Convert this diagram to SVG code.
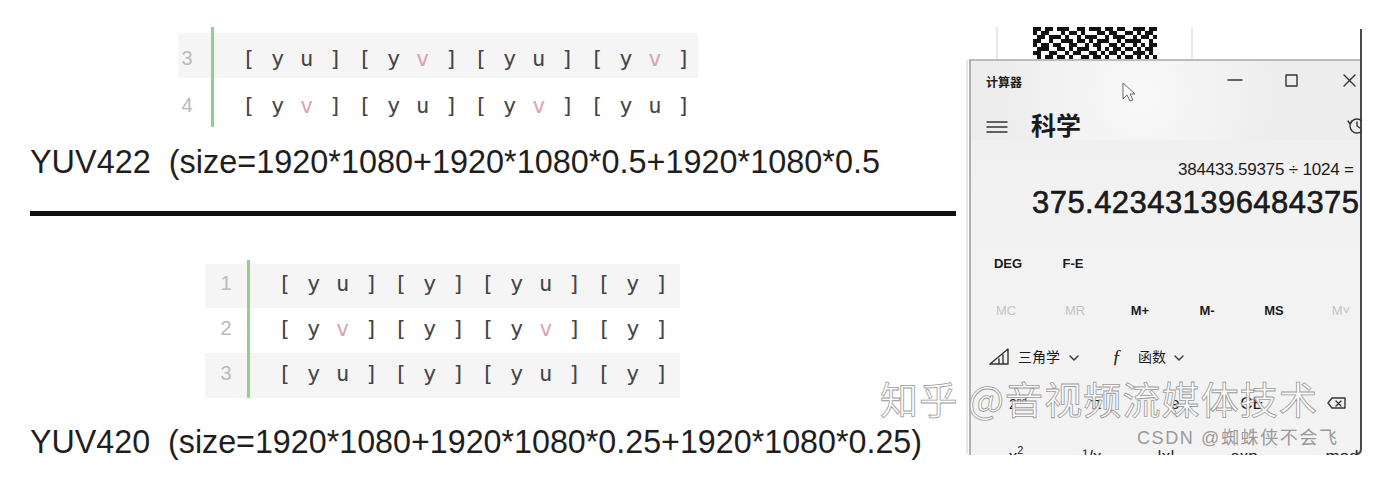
<svg xmlns="http://www.w3.org/2000/svg" width="1392" height="482" viewBox="0 0 1392 482">
<defs>
<style>
.code{font-family:"DejaVu Sans Mono","Liberation Mono",monospace;font-size:22px;fill:#454545;letter-spacing:1.26px}
.v{fill:#d9a3b3}
.ln{font-family:"Liberation Sans",Arial,sans-serif;font-size:20px;fill:#bababa;text-anchor:middle}
.band{fill:#f5f5f5}
.bar{fill:#8fcf8f}
.formula{font-family:"Liberation Sans",Arial,sans-serif;font-size:34px;fill:#1e1e1e}
.cal{font-family:"Liberation Sans","Noto Sans CJK SC",sans-serif;fill:#1b1b1b}
.btn{font-size:13px;font-weight:bold;text-anchor:middle}
.dim{fill:#c4c4c4;font-weight:normal}
.fn{font-size:17px;text-anchor:middle;fill:#222}
.icon{fill:none;stroke:#333;stroke-width:1.4;stroke-linecap:round;stroke-linejoin:round}
.wm{font-family:"Noto Sans CJK SC","Liberation Sans",sans-serif;fill:#ffffff;fill-opacity:0.9;stroke:#9a9a9a;stroke-width:0.8}
</style>
<clipPath id="calClip"><path d="M969 60H1362V449Q1362 455 1356 455H969Z"/></clipPath>
<radialGradient id="glow" cx="1140" cy="95" r="140" gradientUnits="userSpaceOnUse">
<stop offset="0" stop-color="#f9f9f9"/><stop offset="1" stop-color="#ededed"/>
</radialGradient>
<linearGradient id="body" x1="0" y1="60" x2="0" y2="455" gradientUnits="userSpaceOnUse">
<stop offset="0" stop-color="#ececec"/><stop offset="0.35" stop-color="#f2f2f2"/><stop offset="1" stop-color="#f3f3f3"/>
</linearGradient>
</defs>
<rect width="1392" height="482" fill="#ffffff"/>

<g id="yuv422-code">
<rect class="band" x="178" y="33" width="520" height="45"/>
<rect class="bar" x="211" y="27" width="3" height="100"/>
<text class="ln" x="187" y="65">3</text>
<text class="ln" x="187" y="112">4</text>
<text class="code" x="242" y="66">[ y u ] [ y <tspan class="v">v</tspan> ] [ y u ] [ y <tspan class="v">v</tspan> ]</text>
<text class="code" x="242" y="113">[ y <tspan class="v">v</tspan> ] [ y u ] [ y <tspan class="v">v</tspan> ] [ y u ]</text>
</g>

<g id="yuv422-formula">
<text class="formula" x="30" y="173" textLength="850" lengthAdjust="spacingAndGlyphs">YUV422&#160; (size=1920*1080+1920*1080*0.5+1920*1080*0.5</text>
</g>

<g id="divider">
<rect x="30" y="211" width="926" height="5" fill="#111111"/>
</g>

<g id="yuv420-code">
<rect class="band" x="205" y="264" width="475" height="44"/>
<rect class="band" x="205" y="353" width="475" height="45"/>
<rect class="bar" x="247" y="260" width="3" height="138"/>
<text class="ln" x="226" y="290">1</text>
<text class="ln" x="226" y="335">2</text>
<text class="ln" x="226" y="380">3</text>
<text class="code" x="278" y="291">[ y u ] [ y ] [ y u ] [ y ]</text>
<text class="code" x="278" y="336">[ y <tspan class="v">v</tspan> ] [ y ] [ y <tspan class="v">v</tspan> ] [ y ]</text>
<text class="code" x="278" y="381">[ y u ] [ y ] [ y u ] [ y ]</text>
</g>

<g id="yuv420-formula">
<text class="formula" x="30" y="453" textLength="892" lengthAdjust="spacingAndGlyphs">YUV420&#160; (size=1920*1080+1920*1080*0.25+1920*1080*0.25)</text>
</g>

<g id="background-window">
<line x1="997" y1="27" x2="997" y2="60" stroke="#e2e2e2" stroke-width="1.5"/>
<line x1="1192" y1="27" x2="1192" y2="60" stroke="#e2e2e2" stroke-width="1.5"/>
<path fill="#111111" d="M1033 27h8v4h-8zM1045 27h8v4h-8zM1057 27h12v4h-12zM1077 27h8v4h-8zM1089 27h12v4h-12zM1105 27h8v4h-8zM1117 27h8v4h-8zM1133 27h12v4h-12zM1149 27h8v4h-8z
M1033 31h4v4h-4zM1041 31h8v4h-8zM1061 31h4v4h-4zM1069 31h8v4h-8zM1081 31h4v4h-4zM1097 31h8v4h-8zM1109 31h8v4h-8zM1125 31h8v4h-8zM1137 31h4v4h-4zM1145 31h8v4h-8z
M1037 35h8v4h-8zM1049 35h12v4h-12zM1065 35h4v4h-4zM1077 35h4v4h-4zM1085 35h12v4h-12zM1105 35h4v4h-4zM1113 35h12v4h-12zM1133 35h4v4h-4zM1141 35h8v4h-8zM1153 35h4v4h-4z
M1033 39h8v4h-8zM1049 39h4v4h-4zM1061 39h12v4h-12zM1077 39h8v4h-8zM1089 39h4v4h-4zM1097 39h12v4h-12zM1117 39h4v4h-4zM1125 39h16v4h-16zM1149 39h4v4h-4z
M1033 43h4v4h-4zM1041 43h8v4h-8zM1053 43h8v4h-8zM1069 43h8v4h-8zM1085 43h4v4h-4zM1093 43h8v4h-8zM1109 43h8v4h-8zM1121 43h4v4h-4zM1133 43h4v4h-4zM1141 43h4v4h-4zM1149 43h8v4h-8z
M1037 47h12v4h-12zM1057 47h8v4h-8zM1069 47h4v4h-4zM1077 47h12v4h-12zM1097 47h4v4h-4zM1105 47h4v4h-4zM1113 47h8v4h-8zM1125 47h8v4h-8zM1137 47h4v4h-4zM1145 47h8v4h-8z
M1033 51h8v4h-8zM1049 51h8v4h-8zM1065 51h4v4h-4zM1073 51h8v4h-8zM1089 51h8v4h-8zM1101 51h4v4h-4zM1109 51h8v4h-8zM1121 51h4v4h-4zM1133 51h12v4h-12zM1149 51h4v4h-4z
M1037 55h4v4h-4zM1045 55h8v4h-8zM1057 55h8v4h-8zM1069 55h4v4h-4zM1081 55h8v4h-8zM1093 55h8v4h-8zM1105 55h4v4h-4zM1117 55h4v4h-4zM1125 55h8v4h-8zM1137 55h4v4h-4zM1145 55h4v4h-4zM1153 55h4v4h-4z"/>
<line x1="967" y1="60" x2="967" y2="454" stroke="#d0d0d0" stroke-width="1"/>
</g>

<g id="calculator">
<path d="M969 60H1362V449Q1362 455 1356 455H969Z" fill="url(#body)"/>
<rect x="969" y="60" width="393" height="80" fill="url(#glow)" clip-path="url(#calClip)"/>
<line x1="969" y1="60" x2="1362" y2="60" stroke="#a8a8a8" stroke-width="1.5"/>
<line x1="970" y1="60" x2="970" y2="455" stroke="#9a9a9a" stroke-width="1.5"/>
<path d="M1361 29V449Q1361 454 1356 454" fill="none" stroke="#4a4a4a" stroke-width="2"/>
<g clip-path="url(#calClip)">
<text class="cal" x="986" y="87" font-size="12" font-weight="bold" fill="#333">计算器</text>
<path d="M1123 83V99L1127 95L1130 101L1133 100L1130 94L1135 94Z" fill="#ffffff" stroke="#666" stroke-width="1"/>
<line class="icon" x1="1228" y1="80" x2="1242" y2="80" stroke-width="1.2"/>
<rect class="icon" x="1286" y="75" width="11" height="11" stroke-width="1.2"/>
<path class="icon" d="M1344 75L1355 86M1355 75L1344 86" stroke-width="1.2"/>
<path class="icon" d="M987 122H1007M987 127H1007M987 132H1007" stroke-width="1.6"/>
<text class="cal" x="1031" y="135" font-size="25" font-weight="bold" fill="#111">科学</text>
<circle class="icon" cx="1357" cy="126" r="7"/>
<path class="icon" d="M1357 122V126L1360 128M1348 121L1350 124L1352 121"/>
<text class="cal" x="1354" y="175" font-size="17" fill="#8a8a8a" text-anchor="end" textLength="176">384433.59375 ÷ 1024 =</text>
<text class="cal" x="1032" y="213" font-size="31" fill="#161616" stroke="#161616" stroke-width="0.6" textLength="327">375.423431396484375</text>
<text class="cal btn" x="1008" y="268">DEG</text>
<text class="cal btn" x="1073" y="268">F-E</text>
<text class="cal btn dim" x="1006" y="315">MC</text>
<text class="cal btn dim" x="1075" y="315">MR</text>
<text class="cal btn" x="1140" y="315">M+</text>
<text class="cal btn" x="1207" y="315">M-</text>
<text class="cal btn" x="1274" y="315">MS</text>
<text class="cal btn dim" x="1341" y="315">M˅</text>
<path class="icon" d="M990 364H1008V349ZM999 364V359M1003 364V355" stroke-width="1.2"/>
<text class="cal" x="1018" y="362" font-size="14" fill="#222">三角学</text>
<path class="icon" d="M1070 356L1074 360L1078 356" stroke-width="1"/>
<text x="1112" y="363" font-family="Liberation Serif,serif" font-style="italic" font-size="19" fill="#222">ƒ</text>
<text class="cal" x="1138" y="362" font-size="14" fill="#222">函数</text>
<path class="icon" d="M1175 356L1179 360L1183 356" stroke-width="1"/>
<text class="cal" x="1009" y="409" font-size="14" fill="#222">2<tspan font-size="9" dy="-5">nd</tspan></text>
<text class="cal fn" x="1096" y="409" font-size="15">π</text>
<text class="cal fn" x="1175" y="409" font-size="15">e</text>
<text class="cal fn" x="1252" y="409" font-size="14">CE</text>
<path class="icon" d="M1328 403L1332 398H1345V408H1332ZM1336 401L1341 406M1341 401L1336 406" stroke-width="1.2"/>
<text class="cal fn" x="1016" y="462">x<tspan font-size="11" dy="-8">2</tspan></text>
<text class="cal fn" x="1092" y="462">¹/x</text>
<text class="cal fn" x="1166" y="462">|x|</text>
<text class="cal fn" x="1244" y="462">exp</text>
<text class="cal fn" x="1342" y="462">mod</text>
</g>
</g>

<g id="watermark">
<text class="wm" x="880" y="414" font-size="38" textLength="437">知乎 @音视频流媒体技术</text>
<text x="1137" y="444" font-family="Liberation Sans,'Noto Sans CJK SC',sans-serif" font-size="18" fill="#9a9a9a" textLength="200">CSDN @蜘蛛侠不会飞</text>
</g>
</svg>
